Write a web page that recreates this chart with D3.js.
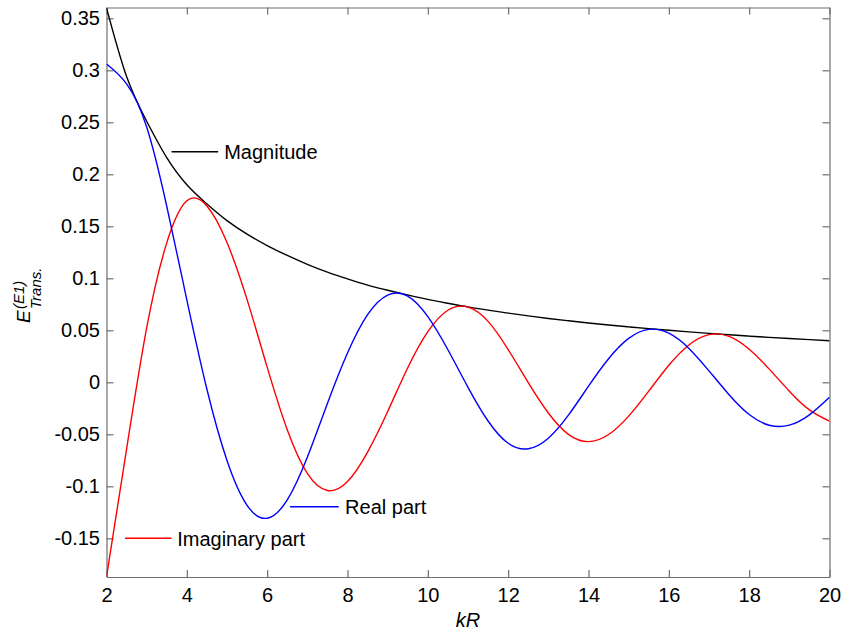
<!DOCTYPE html>
<html>
<head>
<meta charset="utf-8">
<script src="https://cdn.jsdelivr.net/npm/d3@7"></script>
<style>
  body { margin: 0; background: #fff; }
  text { font-family: Arial, "Liberation Sans", sans-serif; }
</style>
</head>
<body>
<div id="chart"></div>
<script>
// values
var kR = [2, 2.5, 3, 3.5, 4, 4.5, 5, 5.5, 6, 6.5, 7, 7.5, 8, 8.5, 9, 9.5, 10, 10.5, 11, 11.5,
  12, 12.5, 13, 13.5, 14, 14.5, 15, 15.5, 16, 16.5, 17, 17.5, 18, 18.5, 19, 19.5, 20];

var magnitude = [0.360, 0.294, 0.251, 0.216, 0.190, 0.1715, 0.1555, 0.1425, 0.1315, 0.122, 0.1135, 0.106,
  0.0995, 0.0935, 0.0885, 0.084, 0.0797, 0.076, 0.0725, 0.0694, 0.0665, 0.0639, 0.0614, 0.0592,
  0.0571, 0.0551, 0.0533, 0.0516, 0.0500, 0.0485, 0.0471, 0.0457, 0.0444, 0.0432, 0.0421, 0.0410, 0.0400];

var realPart = [0.306, 0.2869, 0.2455, 0.1693, 0.0793, -0.0067, -0.0752, -0.1183, -0.1307, -0.1131,
  -0.0721, -0.0203, 0.0282, 0.0651, 0.0839, 0.0828, 0.0631, 0.0313, -0.0048, -0.0372, -0.0586,
  -0.0639, -0.0538, -0.0316, -0.0037, 0.0227, 0.0422, 0.0509, 0.0472, 0.0326, 0.0110, -0.0119,
  -0.0310, -0.0413, -0.0412, -0.0313, -0.0144];

var imagPart = [-0.187, -0.0642, 0.0523, 0.1341, 0.1745, 0.1695, 0.1344, 0.0795, 0.0146, -0.0456,
  -0.0876, -0.1040, -0.0954, -0.0671, -0.0281, 0.0140, 0.0487, 0.0693, 0.0723, 0.0586, 0.0315,
  -0.0003, -0.0295, -0.0500, -0.0570, -0.0502, -0.0325, -0.0085, 0.0164, 0.0359, 0.0458, 0.0441,
  0.0318, 0.0127, -0.0085, -0.0265, -0.0373];

var xTicks = [2, 4, 6, 8, 10, 12, 14, 16, 18, 20];
var yTicks = [0.35, 0.3, 0.25, 0.2, 0.15, 0.1, 0.05, 0, -0.05, -0.1, -0.15];
var yTickLabels = ["0.35", "0.3", "0.25", "0.2", "0.15", "0.1", "0.05", "0", "-0.05", "-0.1", "-0.15"];

var W = 843, H = 635;
var plotLeft = 106.5, plotRight = 829.5, plotTop = 7.5, plotBottom = 577;

var svg = d3.select("#chart").append("svg")
  .attr("width", W)
  .attr("height", H);

svg.append("rect").attr("width", W).attr("height", H).attr("fill", "#fff");

var x = d3.scaleLinear().domain([2, 20]).range([plotLeft, plotRight]);
var y = d3.scaleLinear().domain([-0.1872, 0.3604]).range([plotBottom, plotTop]);

var axisColor = "#6f6f6f";

// axes, ticks point inwards on all four sides
var gx = svg.append("g")
  .attr("transform", "translate(0," + plotBottom + ")")
  .call(d3.axisBottom(x).tickValues(xTicks).tickFormat(d3.format("d"))
    .tickSizeInner(-7).tickSizeOuter(0).tickPadding(11));

var gy = svg.append("g")
  .attr("transform", "translate(" + plotLeft + ",0)")
  .call(d3.axisLeft(y).tickValues(yTicks).tickFormat(function (d, i) { return yTickLabels[i]; })
    .tickSizeInner(-7).tickSizeOuter(0).tickPadding(6.5));

var gxt = svg.append("g")
  .attr("transform", "translate(0," + plotTop + ")")
  .call(d3.axisTop(x).tickValues(xTicks).tickFormat("").tickSizeInner(-7).tickSizeOuter(0));

var gyr = svg.append("g")
  .attr("transform", "translate(" + plotRight + ",0)")
  .call(d3.axisRight(y).tickValues(yTicks).tickFormat("").tickSizeInner(-7).tickSizeOuter(0));

[gx, gy, gxt, gyr].forEach(function (g) {
  g.select(".domain").attr("stroke", axisColor).attr("stroke-width", 1.2);
  g.selectAll(".tick line").attr("stroke", axisColor).attr("stroke-width", 1.2);
  g.selectAll(".tick text")
    .attr("fill", "#000")
    .style("font-size", "20px")
    .style("font-family", "Arial, 'Liberation Sans', sans-serif");
});

// curves
var series = [
  { values: magnitude, color: "#000000" },
  { values: imagPart, color: "#ff0000" },
  { values: realPart, color: "#0000ff" }
];

var line = d3.line()
  .x(function (d) { return x(d[0]); })
  .y(function (d) { return y(d[1]); })
  .curve(d3.curveNatural);

svg.append("defs").append("clipPath").attr("id", "plotClip")
  .append("rect")
  .attr("x", plotLeft).attr("y", plotTop)
  .attr("width", plotRight - plotLeft).attr("height", plotBottom - plotTop);

svg.append("g").attr("clip-path", "url(#plotClip)")
  .selectAll("path.curve")
  .data(series)
  .enter()
  .append("path")
  .attr("class", "curve")
  .attr("fill", "none")
  .attr("stroke", function (d) { return d.color; })
  .attr("stroke-width", 1.4)
  .attr("d", function (d) {
    return line(kR.map(function (k, i) { return [k, d.values[i]]; }));
  });

// in-plot labels with short leader lines
var labels = [
  { text: "Magnitude", x1: 3.62, x2: 4.78, y: 0.2217, tx: 4.93, color: "#000000" },
  { text: "Real part", x1: 6.57, x2: 7.78, y: -0.1196, tx: 7.94, color: "#0000ff" },
  { text: "Imaginary part", x1: 2.46, x2: 3.62, y: -0.15, tx: 3.76, color: "#ff0000" }
];

labels.forEach(function (l) {
  svg.append("line")
    .attr("x1", x(l.x1)).attr("x2", x(l.x2))
    .attr("y1", y(l.y)).attr("y2", y(l.y))
    .attr("stroke", l.color)
    .attr("stroke-width", 1.5);
  svg.append("text")
    .attr("x", x(l.tx))
    .attr("y", y(l.y) + 7.5)
    .style("font-size", "20px")
    .attr("fill", "#000")
    .text(l.text);
});

// axis titles
svg.append("text")
  .attr("x", (plotLeft + plotRight) / 2)
  .attr("y", 627)
  .attr("text-anchor", "middle")
  .style("font-size", "20px")
  .style("font-style", "italic")
  .text("kR");

var yTitle = svg.append("g")
  .attr("transform", "translate(30,323) rotate(-90)");

yTitle.append("text")
  .attr("x", 0).attr("y", 0)
  .style("font-size", "19px")
  .style("font-style", "italic")
  .text("E");

yTitle.append("text")
  .attr("x", 14).attr("y", -6)
  .style("font-size", "15px")
  .style("font-style", "italic")
  .text("(E1)");

yTitle.append("text")
  .attr("x", 14).attr("y", 11)
  .style("font-size", "15px")
  .style("font-style", "italic")
  .text("Trans.");
</script>
</body>
</html>
